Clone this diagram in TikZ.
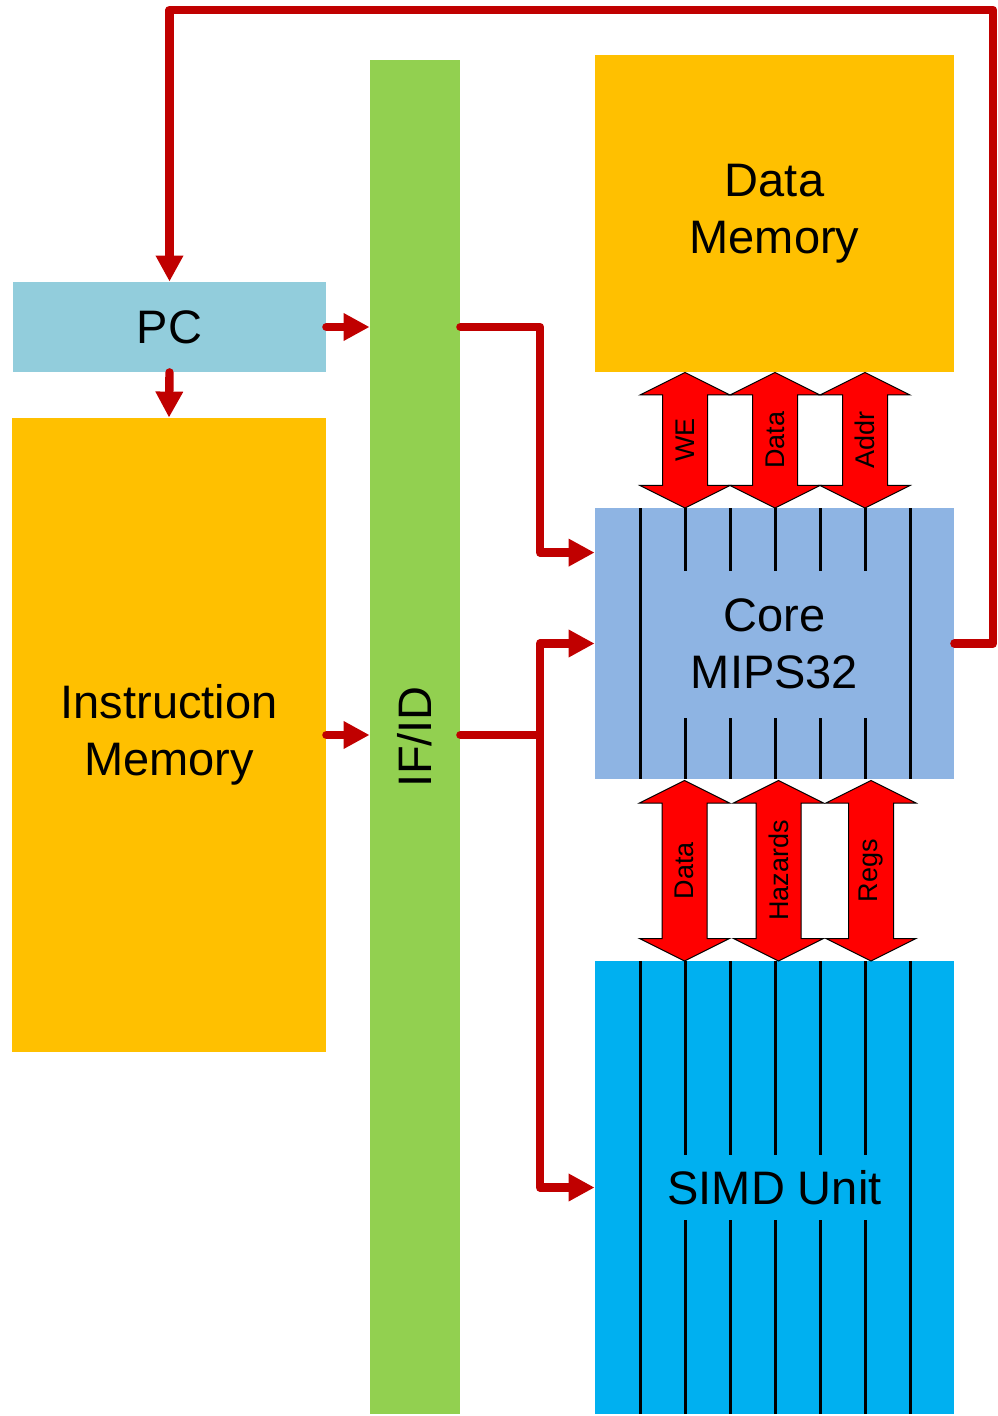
\documentclass[tikz,border=0pt]{standalone}
\usepackage{fontspec}
\setmainfont{Liberation Sans}
\usetikzlibrary{arrows.meta}
\definecolor{pcblue}{HTML}{92CDDC}
\definecolor{memgold}{HTML}{FFC000}
\definecolor{ifidgreen}{HTML}{92D050}
\definecolor{coreblue}{HTML}{8EB4E3}
\definecolor{simdblue}{HTML}{00B0F0}
\definecolor{wirered}{HTML}{C00000}
\definecolor{busred}{HTML}{FF0000}
\begin{document}
\begin{tikzpicture}[x=0.5pt, y=-0.5pt,
    block/.style={inner sep=0pt, align=center, font=\fontsize{23.5}{28.5}\selectfont},
    wire/.style={draw=wirered, line width=4.2pt, line cap=round, line join=round, -{Triangle[length=13pt, width=13pt]}},
    lane/.style={line width=1.5pt},
    bus/.style={fill=busred, draw=black, line width=0.5pt},
    buslabel/.style={rotate=90, inner sep=0pt, font=\fontsize{13.5}{16}\selectfont}]
  \useasboundingbox (0,0) rectangle (997,1416);

  % blocks
  \node (pc) [block, fill=pcblue, minimum width=156.5pt, minimum height=45pt] at (169.5,327) {PC};
  \node (imem) [block, fill=memgold, minimum width=157pt, minimum height=317pt] at (169,735) {Instruction\\Memory};
  \node (ifid) [block, fill=ifidgreen, minimum width=45pt, minimum height=677pt] at (415,737) {\rotatebox{90}{IF/ID}};
  \node (dmem) [block, fill=memgold, minimum width=179.5pt, minimum height=158.5pt] at (774.5,213.5) {Data\\Memory};
  \node (core) [block, fill=coreblue, minimum width=179.5pt, minimum height=135.5pt] at (774.5,643.5) {Core\\MIPS32};
  \node (simd) [block, fill=simdblue, minimum width=179.5pt, minimum height=226.5pt] at (774.5,1187.5) {SIMD Unit};

  % lanes through core and simd unit
  \foreach \k in {1,7} {
    \draw[lane] ({595+45*\k},508) -- ({595+45*\k},779);
    \draw[lane] ({595+45*\k},961) -- ({595+45*\k},1414);
  }
  \foreach \k in {2,...,6} {
    \draw[lane] ({595+45*\k},508) -- ({595+45*\k},571);
    \draw[lane] ({595+45*\k},718) -- ({595+45*\k},779);
    \draw[lane] ({595+45*\k},961) -- ({595+45*\k},1155);
    \draw[lane] ({595+45*\k},1220) -- ({595+45*\k},1414);
  }

  % buses between data memory and core
  \foreach \x/\lbl [count=\i] in {685/WE, 775/Data, 865/Addr} {
    \draw[bus] (\x,372.5) -- ++(45,22.5) -- ++(-22.5,0) -- ++(0,90.5) -- ++(22.5,0) -- ++(-45,22.5)
      -- ++(-45,-22.5) -- ++(22.5,0) -- ++(0,-90.5) -- ++(-22.5,0) -- cycle;
    \node (dmbus\i) [buslabel] at (\x,440) {\lbl};
  }

  % buses between core and simd unit
  \foreach \x/\lbl [count=\i] in {684.5/Data, 778.5/Hazards, 871/Regs} {
    \draw[bus] (\x,780.5) -- ++(45,22.5) -- ++(-22.5,0) -- ++(0,135.5) -- ++(22.5,0) -- ++(-45,22.5)
      -- ++(-45,-22.5) -- ++(22.5,0) -- ++(0,-135.5) -- ++(-22.5,0) -- cycle;
    \node (simdbus\i) [buslabel] at (\x,870.5) {\lbl};
  }

  % wires
  \coordinate (busx) at (540,0);
  \coordinate (loop) at (993,10);
  \draw[wire] (pc.east) -- (pc.east -| ifid.west);
  \draw[wire] (pc.south) -- (imem.north);
  \draw[wire] (imem.east) -- (imem.east -| ifid.west);
  \draw[wire] (pc.east -| ifid.east) -- (busx |- pc.east) |- ([yshift=-22.5pt]core.north west);
  \draw[wire] (imem.east -| ifid.east) -| (busx |- core.west) -- (core.west);
  \draw[wire] (busx |- imem.east) |- (simd.west);
  \draw[wire] (core.east) -| (loop) -| (pc.north);
\end{tikzpicture}
\end{document}
